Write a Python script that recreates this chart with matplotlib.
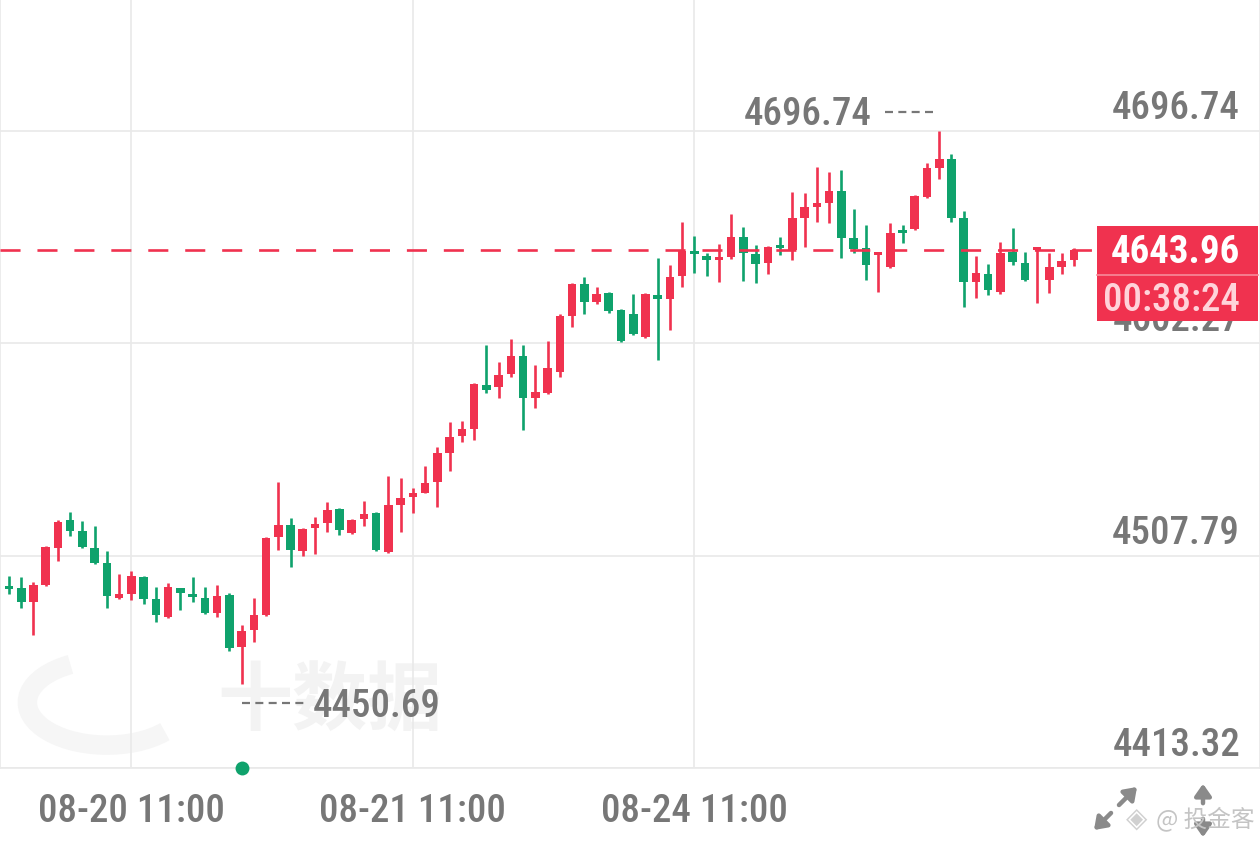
import numpy as np
import matplotlib
matplotlib.use('Agg')
import matplotlib.pyplot as plt
from matplotlib import font_manager as fm
from matplotlib.patches import Rectangle, Arc, FancyArrowPatch

# K线数据 (读自原图, 每小时一根)
opens = [4494.3, 4493.4, 4487.1, 4494.7, 4511.2, 4523.6, 4518.7, 4511.2, 4504.5, 4488.9,
         4490.7, 4498.3, 4488.5, 4480.5, 4493.4, 4490.7, 4488.9, 4482.3, 4490.3, 4467.1,
         4474.7, 4481.4, 4516.1, 4521.4, 4509.8, 4520.1, 4522.3, 4528.5, 4517.9, 4524.1,
         4526.8, 4509.4, 4530.3, 4533.9, 4535.7, 4540.5, 4553.5, 4561.0, 4564.1, 4583.7,
         4582.8, 4588.6, 4596.6, 4577.9, 4580.1, 4589.5, 4614.4, 4628.7, 4620.6, 4624.7,
         4617.1, 4615.3, 4605.1, 4623.8, 4622.0, 4632.2, 4643.3, 4641.1, 4639.3, 4640.7,
         4649.6, 4642.0, 4638.0, 4645.6, 4643.8, 4658.0, 4662.9, 4664.7, 4670.0, 4649.1,
         4644.7, 4641.6, 4636.2, 4652.2, 4653.1, 4667.4, 4680.3, 4684.3, 4658.0, 4629.5,
         4633.1, 4625.1, 4642.9, 4638.0, 4643.8, 4630.4, 4636.2, 4639.3]
highs = [4498.7, 4498.3, 4496.0, 4512.1, 4523.6, 4527.2, 4523.2, 4521.0, 4509.8, 4499.6,
         4500.9, 4498.7, 4493.8, 4495.6, 4493.4, 4498.3, 4493.8, 4494.7, 4491.2, 4476.9,
         4488.9, 4516.1, 4540.5, 4524.5, 4520.1, 4525.0, 4531.6, 4529.0, 4524.1, 4532.1,
         4527.2, 4543.2, 4542.3, 4537.9, 4547.7, 4556.1, 4567.2, 4567.7, 4584.6, 4601.5,
         4593.9, 4604.2, 4601.5, 4592.6, 4603.3, 4615.3, 4629.1, 4631.8, 4627.3, 4625.1,
         4617.5, 4624.2, 4624.7, 4640.2, 4637.1, 4656.2, 4650.0, 4642.4, 4646.5, 4659.8,
         4654.0, 4646.0, 4645.6, 4649.6, 4669.6, 4669.1, 4680.7, 4678.5, 4679.4, 4662.0,
         4654.9, 4642.6, 4655.8, 4654.9, 4668.3, 4682.5, 4696.74, 4686.5, 4661.1, 4641.1,
         4637.5, 4647.3, 4653.6, 4642.9, 4644.9, 4642.4, 4642.4, 4644.7]
lows = [4490.7, 4484.5, 4472.5, 4494.3, 4505.4, 4516.5, 4511.4, 4504.1, 4484.5, 4488.7,
        4488.0, 4486.3, 4478.2, 4480.0, 4483.6, 4487.1, 4481.8, 4480.5, 4465.3, 4450.69,
        4469.3, 4480.9, 4510.3, 4502.7, 4507.6, 4508.5, 4518.3, 4517.0, 4517.4, 4521.0,
        4509.8, 4509.0, 4518.3, 4526.8, 4535.5, 4529.4, 4545.4, 4558.3, 4559.2, 4580.1,
        4577.9, 4587.3, 4563.7, 4573.5, 4579.9, 4587.3, 4609.5, 4615.3, 4619.8, 4615.8,
        4602.8, 4606.0, 4604.6, 4594.8, 4608.2, 4627.3, 4633.5, 4632.2, 4629.5, 4639.8,
        4630.0, 4629.1, 4633.1, 4641.6, 4639.3, 4645.1, 4656.2, 4655.8, 4640.2, 4642.4,
        4630.4, 4625.1, 4635.8, 4646.9, 4652.7, 4666.9, 4675.4, 4656.2, 4618.4, 4622.4,
        4623.8, 4624.2, 4637.1, 4630.2, 4620.2, 4624.7, 4633.1, 4636.7]
closes = [4492.9, 4487.1, 4494.7, 4511.6, 4522.7, 4518.7, 4511.6, 4504.5, 4489.8, 4490.7,
          4498.7, 4488.5, 4481.4, 4493.8, 4491.2, 4489.4, 4482.3, 4489.8, 4466.7, 4474.2,
          4481.4, 4515.6, 4521.4, 4510.3, 4519.6, 4521.9, 4528.1, 4519.2, 4523.6, 4526.3,
          4510.3, 4530.3, 4533.4, 4535.7, 4540.1, 4553.5, 4560.6, 4564.1, 4584.2, 4581.5,
          4588.2, 4596.6, 4577.9, 4580.6, 4591.3, 4614.4, 4628.7, 4620.6, 4624.2, 4616.6,
          4603.3, 4606.4, 4624.2, 4622.0, 4631.8, 4643.3, 4642.0, 4639.3, 4640.2, 4649.6,
          4642.4, 4637.5, 4645.1, 4644.7, 4658.0, 4662.9, 4664.7, 4670.0, 4649.1, 4644.2,
          4637.1, 4642.4, 4651.3, 4651.3, 4667.8, 4680.3, 4684.3, 4658.0, 4629.5, 4633.5,
          4626.0, 4642.4, 4638.4, 4630.4, 4644.7, 4636.2, 4638.9, 4643.96]

price_ticks = [4413.32, 4507.79, 4602.27, 4696.74]
time_ticks = [10, 33, 56]
time_labels = ['08-20 11:00', '08-21 11:00', '08-24 11:00']
last_price = 4643.96
countdown = '00:38:24'

RED = '#f0324f'
GREEN = '#0fa26c'
GREY = '#777777'
GRID = '#e9e9e9'

# 数字字体: 尽量用窄体, 中等粗细
ttf = fm.fontManager.ttflist
names = {f.name for f in ttf}
if 'Roboto Condensed' in names:
    fam = 'Roboto Condensed'
elif 'Liberation Sans Narrow' in names:
    fam = 'Liberation Sans Narrow'
else:
    fam = 'Roboto'
weights = {f.weight for f in ttf if f.name == fam}
mid = 500 if (500 in weights or 'medium' in weights) else (600 if 600 in weights else 'bold')
NUM = dict(family=fam, weight=mid)
CJK = ['Noto Sans CJK SC', 'DejaVu Sans']

W, H = 1260, 844
fig = plt.figure(figsize=(W / 100, H / 100), dpi=100)
ax = fig.add_axes([0, 76 / H, 1, 768 / H])

step = 12.24  # 每根K线的像素间距
ax.set_xlim(-9 / step, (W - 9) / step)
pu = (price_ticks[3] - price_ticks[0]) / (768 - 131)  # 每像素价格
ax.set_ylim(price_ticks[3] - 637 * pu, price_ticks[3] + 131 * pu)

# 网格
ax.set_yticks(price_ticks)
ax.set_xticks(time_ticks)
ax.set_xticklabels(time_labels, color=GREY, fontsize=28, **NUM)
ax.tick_params(axis='x', length=0, pad=18)
ax.tick_params(axis='y', length=0, labelleft=False)
ax.grid(True, color=GRID, lw=1.2, zorder=0)
ax.spines['top'].set_visible(False)
for s in ['left', 'right', 'bottom']:
    ax.spines[s].set_color(GRID)
    ax.spines[s].set_linewidth(1.2)

# 水印
ax.text(17.0, 4442.5, '十数据', family=CJK, weight='bold',
        fontsize=54, color='#f3f3f3', ha='left', va='center', zorder=1)
ax.add_patch(Arc((8.0, 4442.5), 13, 38, theta1=100, theta2=290, lw=14,
                 color='#f6f6f6', zorder=1))

# K线
x = np.arange(len(opens))
o, h, l, c = map(np.array, (opens, highs, lows, closes))
cols = np.where(c >= o, RED, GREEN)
ax.vlines(x, l, h, colors=cols, lw=1.9, zorder=3)
ax.bar(x, np.maximum(np.abs(c - o), 1.4), bottom=np.minimum(o, c), width=0.7,
       color=cols, lw=0, zorder=4)

# 右侧价格刻度
ytr = ax.get_yaxis_transform()
for p in price_ticks:
    ax.text(1240 / W, p + 12 * pu, f'{p:.2f}', transform=ytr, ha='right',
            va='baseline', fontsize=28, color=GREY, zorder=5, **NUM)

# 最高/最低标注
hi = int(np.argmax(h))
lo = int(np.argmin(l))
ax.plot([hi - 4.45, hi - 0.35], [h[hi] + 19 * pu] * 2, color=GREY, lw=1.6,
        dashes=(3.6, 2.4), zorder=5)
ax.text(hi - 5.55, h[hi] + 6 * pu, f'{h[hi]:.2f}', ha='right', va='baseline',
        fontsize=28, color=GREY, zorder=5, **NUM)
ax.plot([lo, lo + 5.3], [l[lo] - 19 * pu] * 2, color=GREY, lw=1.6,
        dashes=(3.6, 2.4), zorder=5)
ax.text(lo + 5.8, l[lo] - 33 * pu, f'{l[lo]:.2f}', ha='left', va='baseline',
        fontsize=28, color=GREY, zorder=5, **NUM)
ax.plot([lo], [ax.get_ylim()[0]], 'o', color=GREEN, ms=10, mec='none',
        clip_on=False, zorder=6)

# 最新价虚线和标签
ax.axhline(last_price, xmax=1097 / W, color=RED, lw=1.9, dashes=(7.6, 6.4), zorder=5)
ax.add_patch(Rectangle((1097 / W, last_price - 71.5 * pu), 161 / W, 95 * pu,
                       transform=ytr, color=RED, lw=0, zorder=7))
ax.plot([1097 / W, 1258 / W], [last_price - 25 * pu] * 2, transform=ytr,
        color='#f78a9a', lw=1.2, zorder=8)
ax.text(1240 / W, last_price - 13.5 * pu, f'{last_price:.2f}', transform=ytr,
        ha='right', va='baseline', fontsize=28, color='white', family=fam,
        weight='bold', zorder=9)
ax.text(1240 / W, last_price - 61.5 * pu, countdown, transform=ytr,
        ha='right', va='baseline', fontsize=28, color='#ffd3da', zorder=9, **NUM)

# 右下角图标
def fp(px, py):
    return (px, H - py)

for a, b in [((1117, 807), (1139, 785)), ((1113, 811), (1092, 832)),
             ((1203, 806), (1203, 781)), ((1203, 816), (1203, 840))]:
    fig.add_artist(FancyArrowPatch(fp(*a), fp(*b), transform=None,
                                   arrowstyle='-|>,head_length=0.5,head_width=0.35',
                                   mutation_scale=14, color='#8a8a8a', lw=3.2))
fig.text(1156 / W, 1 - 819 / H, '@ 投金客', family=CJK, fontsize=17,
         color='#c4c4c4', ha='left', va='center')
fig.text(1137 / W, 1 - 819 / H, '◈', family=['DejaVu Sans'], fontsize=20,
         color='#d0d0d0', ha='center', va='center')

fig.savefig('out.png', dpi=100)
